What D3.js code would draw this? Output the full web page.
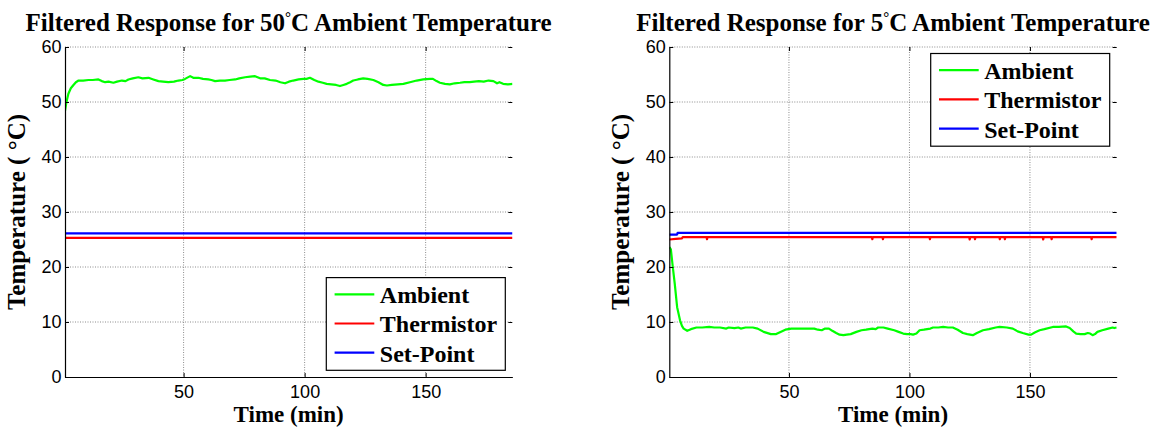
<!DOCTYPE html>
<html>
<head>
<meta charset="utf-8">
<script src="https://cdn.jsdelivr.net/npm/d3@7"></script>
<style>
    body { margin: 0; background: #fff; }
    svg { display: block; }
</style>
</head>
<body>
<svg id="chart" width="1153" height="430"></svg>
<script>
// tick values
const timeTicks = [50, 100, 150];
const tempTicks = [0, 10, 20, 30, 40, 50, 60];
const legendLabels = ["Ambient", "Thermistor", "Set-Point"];

// 50 C run: [time (min), temperature (C)]
const ambient50 = [[1, 48.4], [1.6, 50.0], [2.4, 51.5], [3.4, 52.5], [4.5, 53.1], [5.5, 53.6], [6.6, 53.9], [8.5, 53.9],
    [10.7, 54.0], [12.5, 54.0], [14.8, 54.1], [16.2, 53.8], [17.6, 53.6], [19, 53.7], [21, 53.5], [22.5, 53.7],
    [24.5, 53.9], [26, 53.8], [27.2, 54.1], [29, 54.3], [31.3, 54.5], [33, 54.3], [35.5, 54.4], [37.5, 54.1],
    [39.6, 53.8], [41.5, 53.7], [43.7, 53.6], [46, 53.7], [47.9, 53.9], [49.5, 54.0], [50.6, 54.2], [52.7, 54.7],
    [54, 54.4], [56.1, 54.4], [58, 54.2], [60.2, 54.1], [61.5, 54.0], [63, 53.8], [65, 53.9], [67.1, 53.9],
    [69, 54.0], [71.3, 54.1], [73, 54.3], [75.4, 54.5], [77.5, 54.6], [79.5, 54.7], [81.6, 54.3], [83.5, 54.3],
    [85.7, 54.0], [88, 53.9], [90, 53.6], [91.9, 53.4], [93.5, 53.7], [95.3, 53.9], [97.5, 54.1], [99.5, 54.2],
    [100.8, 54.2], [102.2, 54.4], [104, 54.0], [105.7, 53.7], [107.5, 53.5], [109.1, 53.3], [111, 53.2], [113, 53.1],
    [114.6, 52.9], [116, 53.1], [117.4, 53.3], [118.8, 53.6], [120.1, 53.9], [122, 54.1], [124.2, 54.3], [126, 54.2],
    [128.4, 54.0], [130.5, 53.6], [132.5, 53.1], [134, 53.0], [136, 53.1], [138.5, 53.2], [140.8, 53.3], [143.5, 53.6],
    [146.3, 53.9], [149, 54.1], [151.8, 54.2], [153, 54.2], [154.5, 53.8], [155.9, 53.5], [158, 53.3], [160, 53.2],
    [162, 53.4], [164.2, 53.5], [166, 53.6], [168.2, 53.6], [170, 53.7], [172, 53.8], [174, 53.7], [176, 53.9],
    [178, 53.8], [179.5, 53.4], [180.5, 53.6], [182, 53.3], [184, 53.2], [186, 53.3]];
const thermistor50 = [[1, 25.3], [186, 25.3]];
const setPoint50 = [[1, 26.1], [186, 26.1]];

// 5 C run
const ambient5 = [[0.4, 23.6], [1, 23.2], [1.8, 20], [2.6, 17], [3.6, 12.7], [4.8, 10.3], [5.6, 9.3], [6.3, 8.8],
    [7.8, 8.4], [9.3, 8.7], [11.6, 9.0], [14, 9.0], [16.9, 9.1], [19, 9.0], [21.4, 9.0], [24, 8.8], [25, 9.0],
    [27.4, 8.9], [29, 9.0], [30, 8.8], [32, 9.0], [35, 9.0], [37, 8.8], [39.5, 8.2], [42.5, 7.8], [44.7, 7.8],
    [46.5, 8.2], [48.5, 8.6], [51, 8.8], [53, 8.8], [57, 8.8], [60.5, 8.8], [62, 8.6], [63.6, 8.5], [65, 8.8],
    [66.6, 8.8], [68, 8.4], [69.6, 8.0], [71, 7.7], [72.6, 7.6], [74, 7.7], [75.6, 7.8], [78, 8.2], [80.1, 8.5],
    [82, 8.6], [84.6, 8.8], [86, 8.7], [87, 9.0], [89.2, 9.0], [91, 8.8], [93.7, 8.5], [95.5, 8.2], [97.4, 7.9],
    [99, 7.8], [100.5, 7.8], [101.5, 7.7], [102.9, 7.9], [104.2, 8.5], [106, 8.6], [108.7, 8.8], [109.8, 9.0],
    [112, 9.0], [114, 9.1], [116, 9.0], [118, 9.0], [120, 8.6], [122.2, 8.0], [124, 7.8], [126.3, 7.6], [128, 8.0],
    [130.5, 8.5], [133, 8.7], [135.8, 9.0], [137.4, 9.1], [140.4, 9.0], [142.9, 8.8], [144.9, 8.3], [147, 8.0],
    [149.4, 7.7], [150.5, 7.7], [152, 8.1], [154, 8.5], [156, 8.7], [159.5, 9.1], [162, 9.1], [165, 9.2],
    [166.5, 8.9], [168, 8.3], [169.2, 7.9], [171, 7.8], [172.7, 7.8], [174, 8.0], [175, 7.9], [176, 7.6],
    [177, 7.8], [178, 8.2], [180, 8.5], [182.5, 8.8], [184.3, 9.0], [185, 8.9], [186, 9.0]];
const thermistor5 = [[0.4, 25.0], [3, 25.1], [5.5, 25.2], [6, 25.45], [15.8, 25.45], [16, 25.05], [16.2, 25.45],
    [84.4, 25.45], [84.6, 25.05], [84.8, 25.45], [88.8, 25.45], [89, 25.05], [89.2, 25.45], [108.3, 25.45],
    [108.5, 25.05], [108.7, 25.45], [124.8, 25.45], [125, 25.0], [125.2, 25.45], [127, 25.45], [127.2, 25.05],
    [127.4, 25.45], [137.3, 25.45], [137.5, 25.05], [137.7, 25.45], [139.4, 25.45], [139.6, 25.05], [139.8, 25.45],
    [155.3, 25.45], [155.5, 25.0], [155.7, 25.45], [158.8, 25.45], [159, 25.05], [159.2, 25.45], [175.4, 25.45],
    [175.6, 25.05], [175.8, 25.45], [186, 25.45]];
const setPoint5 = [[0.4, 25.9], [3.6, 25.9], [3.8, 26.2], [186, 26.2]];

const seriesColors = ["#00ff00", "#ff0000", "#0000ff"];
const serifFont = "'Liberation Serif', 'DejaVu Serif', serif";
const sansFont = "'Liberation Sans', Arial, sans-serif";

const svg = d3.select("#chart");
const plotTop = 47, plotBottom = 377;

const panels = [
    { id: "p50", left: 65, right: 512.3, xDomain: [1, 185.8], tempLabel: "50",
      series: [ambient50, thermistor50, setPoint50], legendTop: false },
    { id: "p5", left: 669.3, right: 1116.7, xDomain: [0.35, 186], tempLabel: "5",
      series: [ambient5, thermistor5, setPoint5], legendTop: true }
];

panels.forEach(p => drawPanel(p));

function boldText(sel, size) {
    return sel.attr("font-family", serifFont)
        .attr("font-weight", "bold")
        .attr("font-size", size)
        .attr("fill", "#000");
}

function drawPanel(p) {
    const x = d3.scaleLinear().domain(p.xDomain).range([p.left, p.right]);
    const y = d3.scaleLinear().domain([0, 60]).range([plotBottom, plotTop]);
    const g = svg.append("g");

    g.append("clipPath").attr("id", "clip-" + p.id)
        .append("rect")
        .attr("x", p.left).attr("y", plotTop)
        .attr("width", p.right - p.left).attr("height", plotBottom - plotTop);

    // dotted grid
    g.selectAll(".vgrid").data(timeTicks).enter().append("line")
        .attr("x1", d => x(d)).attr("x2", d => x(d))
        .attr("y1", plotTop).attr("y2", plotBottom)
        .attr("stroke", "#8c8c8c").attr("stroke-width", 1).attr("stroke-dasharray", "1,1.5");
    g.selectAll(".hgrid").data(tempTicks.filter(d => d > 0)).enter().append("line")
        .attr("x1", p.left).attr("x2", p.right)
        .attr("y1", d => y(d)).attr("y2", d => y(d))
        .attr("stroke", "#8c8c8c").attr("stroke-width", 1).attr("stroke-dasharray", "1,1.5");

    // data lines
    const line = d3.line().x(d => x(d[0])).y(d => y(d[1]));
    const lines = g.append("g").attr("clip-path", `url(#clip-${p.id})`);
    p.series.forEach((s, i) => {
        lines.append("path")
            .datum(s)
            .attr("d", line)
            .attr("fill", "none")
            .attr("stroke", seriesColors[i])
            .attr("stroke-width", 2.2)
            .attr("stroke-linejoin", "round");
    });

    // axes: left and bottom solid, inward ticks on all four sides
    const bottomAxis = d3.axisBottom(x).tickValues(timeTicks).tickSize(-4).tickPadding(8).tickSizeOuter(0);
    const leftAxis = d3.axisLeft(y).tickValues(tempTicks).tickSize(-4).tickPadding(3.5).tickSizeOuter(0);
    const topAxis = d3.axisTop(x).tickValues(timeTicks).tickSize(-4).tickFormat("").tickSizeOuter(0);
    const rightAxis = d3.axisRight(y).tickValues(tempTicks).tickSize(-4).tickFormat("").tickSizeOuter(0);

    const gb = g.append("g").attr("transform", `translate(0,${plotBottom})`).call(bottomAxis);
    const gl = g.append("g").attr("transform", `translate(${p.left},0)`).call(leftAxis);
    const gt = g.append("g").attr("transform", `translate(0,${plotTop})`).call(topAxis);
    const gr = g.append("g").attr("transform", `translate(${p.right},0)`).call(rightAxis);

    [gb, gl, gt, gr].forEach(a => {
        a.attr("font-family", sansFont).attr("font-size", 18);
        a.selectAll(".tick line").attr("stroke", "#000").attr("stroke-width", 1);
        a.selectAll(".tick text").attr("fill", "#000");
    });
    gt.select(".domain").remove();
    gr.select(".domain").remove();
    gb.select(".domain").attr("stroke", "#000").attr("stroke-width", 1.2);
    gl.select(".domain").attr("stroke", "#000").attr("stroke-width", 1.2);

    const cx = (p.left + p.right) / 2;

    // title with raised degree ring
    const title = boldText(g.append("text"), 25)
        .attr("x", cx).attr("y", 31).attr("text-anchor", "middle");
    title.append("tspan").text("Filtered Response for " + p.tempLabel);
    title.append("tspan").attr("dy", -9).attr("font-size", 15).text("\u00b0");
    title.append("tspan").attr("dy", 9).text("C Ambient Temperature");

    boldText(g.append("text"), 23)
        .attr("x", cx).attr("y", 422).attr("text-anchor", "middle")
        .text("Time (min)");

    boldText(g.append("text"), 25)
        .attr("transform", `translate(${p.left - 40},${(plotTop + plotBottom) / 2}) rotate(-90)`)
        .attr("text-anchor", "middle")
        .text("Temperature ( \u00b0C)");

    // legend
    const lw = 179, lh = 92.7;
    const lx = p.right - 7 - lw;
    const ly = p.legendTop ? plotTop + 6.5 : plotBottom - 6.7 - lh;
    const leg = g.append("g").attr("transform", `translate(${lx},${ly})`);
    leg.append("rect").attr("width", lw).attr("height", lh)
        .attr("fill", "#fff").attr("stroke", "#000").attr("stroke-width", 1.2);
    legendLabels.forEach((label, i) => {
        const ry = 16.7 + i * 29.2;
        leg.append("line")
            .attr("x1", 8.3).attr("x2", 48).attr("y1", ry).attr("y2", ry)
            .attr("stroke", seriesColors[i]).attr("stroke-width", 2.2);
        boldText(leg.append("text"), 24)
            .attr("x", 53.5).attr("y", ry + 9)
            .text(label);
    });
}
</script>
</body>
</html>
